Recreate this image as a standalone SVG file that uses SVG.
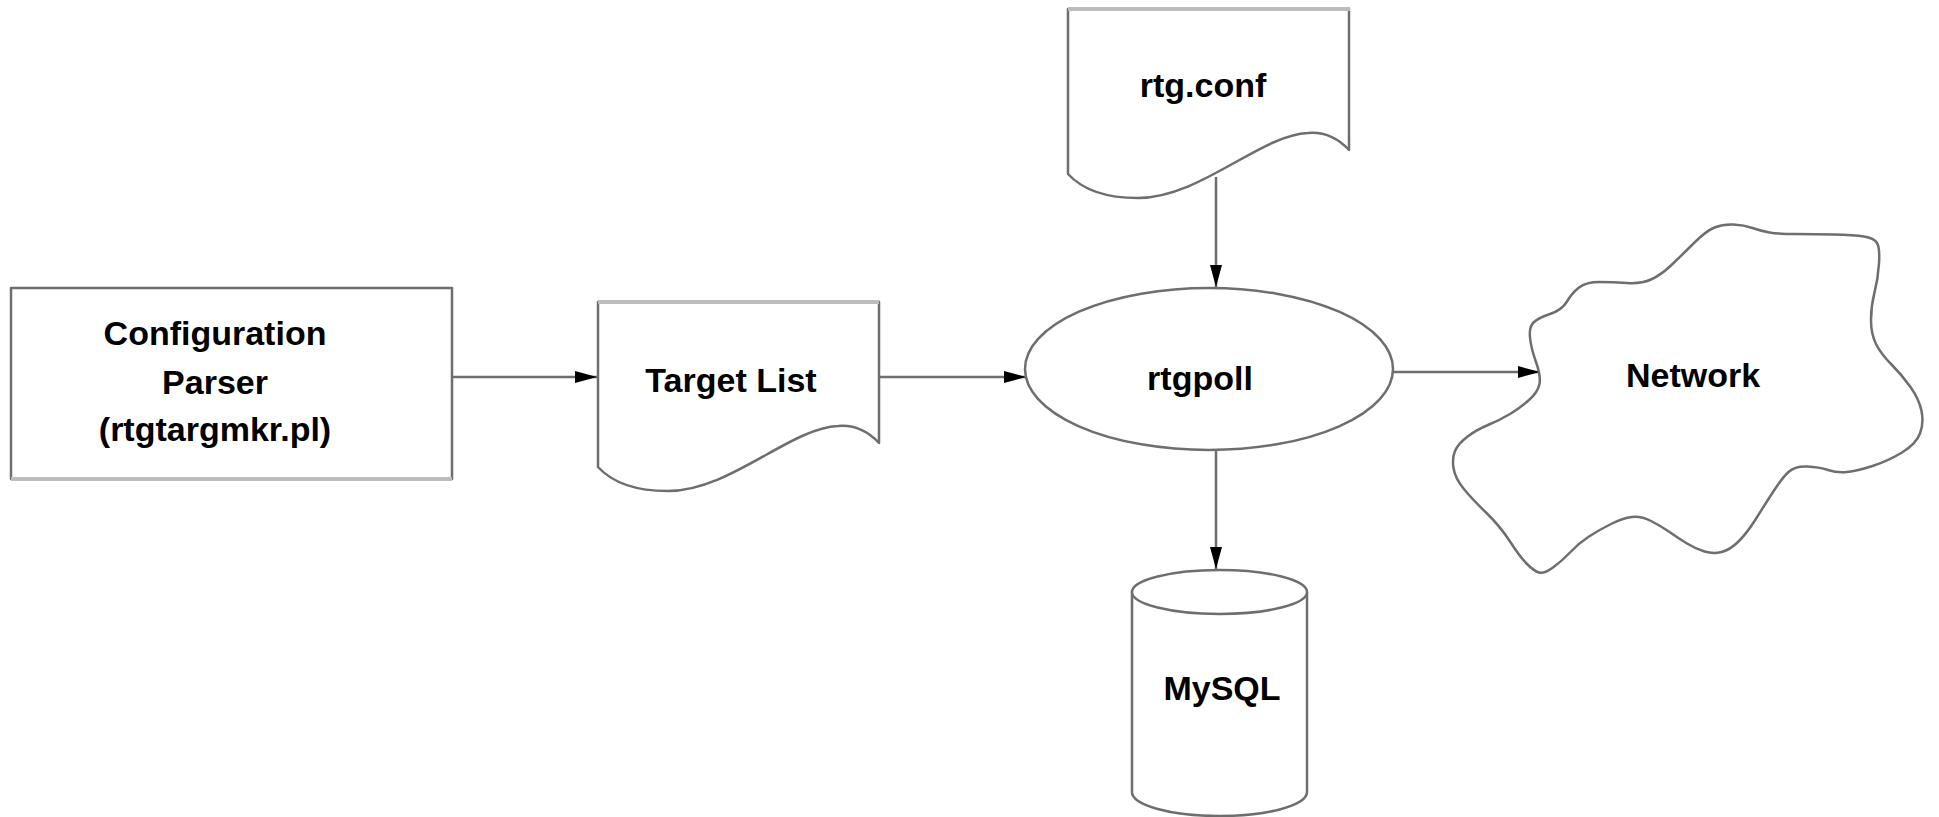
<svg xmlns="http://www.w3.org/2000/svg" width="1939" height="817" viewBox="0 0 1939 817">
<style>
.shape{fill:#fff;stroke:#6e6e6e;stroke-width:2.5;stroke-linejoin:round}
.edge{fill:none;stroke:#bcbcbc;stroke-width:4}
.conn{fill:none;stroke:#6e6e6e;stroke-width:2.5}
.lbl{font-family:"Liberation Sans",Arial,sans-serif;font-weight:bold;font-size:34px;fill:#000;text-anchor:middle}
</style>
<defs>
<marker id="arr" viewBox="0 0 22 12" refX="22" refY="6" markerWidth="22" markerHeight="12" markerUnits="userSpaceOnUse" orient="auto">
<path d="M0,0 L22,6 L0,12 Z" fill="#000"/>
</marker>
<path id="doc" d="M0,0 H281 V141 C267,126 252,123 240,124 C192,126 132,189 70,189 C32,189 12,178 0,165 Z"/>
</defs>
<rect width="1939" height="817" fill="#fff"/>
<g id="connectors">
<line class="conn" x1="452" y1="377" x2="597" y2="377" marker-end="url(#arr)"/>
<line class="conn" x1="879" y1="377" x2="1026" y2="377" marker-end="url(#arr)"/>
<line class="conn" x1="1216" y1="177" x2="1216" y2="287" marker-end="url(#arr)"/>
<line class="conn" x1="1393" y1="372" x2="1540" y2="372" marker-end="url(#arr)"/>
<line class="conn" x1="1216" y1="450" x2="1216" y2="569" marker-end="url(#arr)"/>
</g>
<g id="config-parser">
<rect class="shape" x="11" y="288" width="441" height="191"/>
<line class="edge" x1="11" y1="479" x2="452" y2="479"/>
<text class="lbl" x="215" y="345">Configuration</text>
<text class="lbl" x="215" y="394">Parser</text>
<text class="lbl" x="215" y="441">(rtgtargmkr.pl)</text>
</g>
<g id="target-list">
<use href="#doc" class="shape" transform="translate(598,302)"/>
<line class="edge" x1="598" y1="302" x2="879" y2="302"/>
<text class="lbl" x="731" y="392">Target List</text>
</g>
<g id="rtg-conf">
<use href="#doc" class="shape" transform="translate(1068,9)"/>
<line class="edge" x1="1068" y1="9" x2="1350" y2="9"/>
<text class="lbl" x="1203" y="97">rtg.conf</text>
</g>
<g id="rtgpoll">
<ellipse class="shape" cx="1209" cy="369" rx="184" ry="81"/>
<text class="lbl" x="1200" y="390">rtgpoll</text>
</g>
<g id="network">
<path class="shape" d="M1539.5,384 Q1541,376 1536,362 Q1531,348 1530,337.5 Q1529,327 1533.5,322.5 Q1538,318 1550,314 Q1562,310 1567,301.5 Q1572,293 1579,287.5 Q1586,282 1599.5,282 Q1613,282 1627,283 Q1641,284 1651,279.5 Q1661,275 1671.5,265 Q1682,255 1694,243 Q1706,231 1714.5,227.5 Q1723,224 1733.5,224.5 Q1744,225 1752.5,228 Q1761,231 1769.5,232.5 Q1778,234 1795.5,234 Q1813,234 1833.5,234.5 Q1854,235 1864,236.5 Q1874,238 1877,243 Q1880,248 1879,263.5 Q1878,279 1874.5,292.5 Q1871,306 1871,320 Q1871,334 1876,344 Q1881,354 1891.5,364.5 Q1902,375 1910.5,387 Q1919,399 1921.5,411 Q1924,423 1920,433.5 Q1916,444 1902,452.5 Q1888,461 1872.5,466 Q1857,471 1847,472 Q1837,473 1828,470 Q1819,467 1807,466.5 Q1795,466 1788.5,472 Q1782,478 1773,492 Q1764,506 1755.5,519.5 Q1747,533 1738.5,541.5 Q1730,550 1721.5,552 Q1713,554 1704.5,551.5 Q1696,549 1687,543.5 Q1678,538 1669.5,532 Q1661,526 1651,521 Q1641,516 1632,517 Q1623,518 1611,524 Q1599,530 1589,536.5 Q1579,543 1570.5,552 Q1562,561 1553,567.5 Q1544,574 1539,572.5 Q1534,571 1527,564 Q1520,557 1510,541.5 Q1500,526 1486,512.5 Q1472,499 1463.5,488.5 Q1455,478 1453.5,468 Q1452,458 1455,451 Q1458,444 1467,437 Q1476,430 1488,425 Q1500,420 1510,414 Q1520,408 1529,400 Q1538,392 1539.5,384 Z"/>
<text class="lbl" x="1693" y="387">Network</text>
</g>
<g id="mysql">
<path class="shape" d="M1132,592 V792 A87.5,24 0 0 0 1307,792 V592"/>
<ellipse class="shape" cx="1219.5" cy="592" rx="87.5" ry="22"/>
<text class="lbl" x="1222" y="700">MySQL</text>
</g>
</svg>
